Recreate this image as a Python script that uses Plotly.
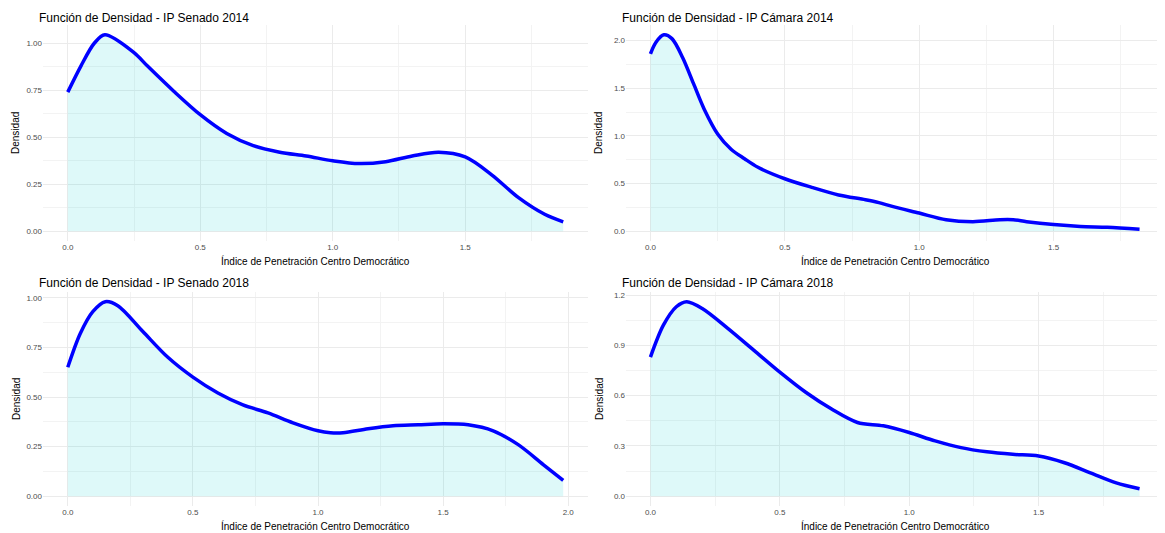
import plotly.graph_objects as go

W, H = 1165, 533

titles = ["Función de Densidad - IP Senado 2014", "Función de Densidad - IP Cámara 2014",
          "Función de Densidad - IP Senado 2018", "Función de Densidad - IP Cámara 2018"]
x_title = "Índice de Penetración Centro Democrático"
y_title = "Densidad"

senado14_x = [0, 0.05, 0.1, 0.14, 0.25, 0.3, 0.4, 0.5, 0.6, 0.7, 0.8, 0.9, 1.0, 1.1, 1.2, 1.3, 1.4, 1.5, 1.6, 1.7, 1.8, 1.87]
senado14_y = [0.74, 0.88, 1.00, 1.045, 0.95, 0.88, 0.745, 0.62, 0.52, 0.455, 0.42, 0.40, 0.375, 0.36, 0.37, 0.40, 0.42, 0.395, 0.30, 0.18, 0.09, 0.05]

camara14_x = [0, 0.02, 0.05, 0.08, 0.12, 0.16, 0.2, 0.25, 0.3, 0.35, 0.4, 0.5, 0.6, 0.7, 0.8, 0.85, 0.9, 1.0, 1.1, 1.2, 1.3, 1.35, 1.4, 1.5, 1.6, 1.7, 1.82]
camara14_y = [1.86, 1.98, 2.06, 2.02, 1.82, 1.55, 1.28, 1.02, 0.86, 0.76, 0.67, 0.55, 0.46, 0.38, 0.33, 0.30, 0.26, 0.19, 0.12, 0.10, 0.12, 0.12, 0.10, 0.07, 0.05, 0.04, 0.02]

senado18_x = [0, 0.05, 0.1, 0.15, 0.2, 0.3, 0.4, 0.5, 0.6, 0.7, 0.8, 0.9, 1.0, 1.05, 1.1, 1.2, 1.3, 1.4, 1.5, 1.6, 1.7, 1.8, 1.9, 1.98]
senado18_y = [0.65, 0.82, 0.93, 0.98, 0.96, 0.83, 0.70, 0.60, 0.52, 0.46, 0.42, 0.37, 0.33, 0.32, 0.32, 0.34, 0.355, 0.36, 0.365, 0.36, 0.33, 0.26, 0.16, 0.08]

camara18_x = [0, 0.05, 0.1, 0.14, 0.2, 0.3, 0.4, 0.5, 0.6, 0.7, 0.8, 0.9, 1.0, 1.1, 1.2, 1.3, 1.4, 1.5, 1.6, 1.7, 1.8, 1.89]
camara18_y = [0.83, 1.02, 1.13, 1.16, 1.12, 1.00, 0.87, 0.74, 0.62, 0.52, 0.44, 0.42, 0.38, 0.33, 0.29, 0.265, 0.25, 0.24, 0.20, 0.14, 0.08, 0.045]

series = [(senado14_x, senado14_y), (camara14_x, camara14_y), (senado18_x, senado18_y), (camara18_x, camara18_y)]
y_dticks = [0.25, 0.5, 0.25, 0.3]
y_fmt = [".2f", ".1f", ".2f", ".1f"]

# panel pixel boxes: (left, right, top, bottom) and title centre row
boxes = [(35, 580, 17, 233), (618, 1156, 17, 233), (35, 580, 284, 498), (618, 1156, 284, 498)]
title_rows = [10, 10, 275, 275]

FONT = "Liberation Sans, Arial, sans-serif"
fig = go.Figure()
annotations = []

for i, ((xs, ys), (l, r, t, b)) in enumerate(zip(series, boxes)):
    n = "" if i == 0 else str(i + 1)
    xa, ya = "x" + n, "y" + n
    fig.add_trace(go.Scatter(x=xs, y=ys, mode="lines", line=dict(color="#0000FF", width=3.5, shape="spline", smoothing=0.9),
                             fill="tozeroy", fillcolor="rgba(0,206,209,0.13)", xaxis=xa, yaxis=ya,
                             showlegend=False, hoverinfo="skip"))
    xmax = max(xs)
    ymax = max(ys)
    xr = [-0.05 * xmax, xmax * 1.05]
    yr = [-0.05 * ymax, ymax * 1.05]
    common = dict(showline=False, zeroline=False, gridcolor="#EBEBEB", gridwidth=1,
                  ticks="", tickfont=dict(size=8, color="#4D4D4D", family=FONT))
    fig.layout["xaxis" + n] = dict(domain=[l / W, r / W], range=xr, dtick=0.5, tickformat=".1f",
                                   anchor=ya, minor=dict(showgrid=True, dtick=0.25, gridcolor="#F3F3F3"), **common)
    fig.layout["yaxis" + n] = dict(domain=[1 - b / H, 1 - t / H], range=yr, dtick=y_dticks[i], tickformat=y_fmt[i],
                                   anchor=xa, minor=dict(showgrid=True, dtick=y_dticks[i] / 2, gridcolor="#F3F3F3"), **common)
    annotations.append(dict(text=titles[i], x=(l - 6) / W, y=1 - title_rows[i] / H, xref="paper", yref="paper",
                            xanchor="left", yanchor="middle", showarrow=False,
                            font=dict(size=12, color="black", family=FONT)))
    annotations.append(dict(text=x_title, x=(l + r) / 2 / W, y=1 - (b + 28) / H, xref="paper", yref="paper",
                            xanchor="center", yanchor="bottom", showarrow=False,
                            font=dict(size=10, color="black", family=FONT)))
    annotations.append(dict(text=y_title, x=(l - 27) / W, y=1 - (t + b) / 2 / H, xref="paper", yref="paper",
                            xanchor="center", yanchor="middle", showarrow=False, textangle=-90,
                            font=dict(size=10, color="black", family=FONT)))

fig.update_layout(width=W, height=H, margin=dict(l=0, r=0, t=0, b=0),
                  plot_bgcolor="white", paper_bgcolor="white", annotations=annotations)
fig.write_html("out.html")
